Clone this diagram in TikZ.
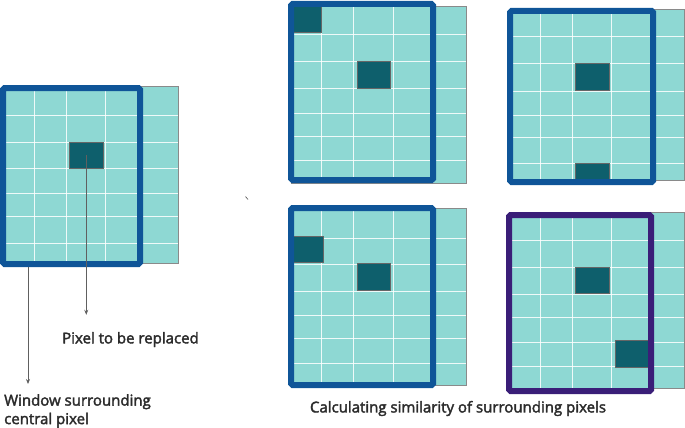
\documentclass[tikz,border=0pt]{standalone}
\usepackage{fontspec}
\setmainfont{Open Sans}
\usetikzlibrary{arrows.meta}
\definecolor{lightteal}{HTML}{8ED8D3}
\definecolor{darkteal}{HTML}{0E5F6C}
\definecolor{winblue}{HTML}{0F5598}
\definecolor{winpurple}{HTML}{3A1E78}
\definecolor{imgborder}{HTML}{8A8A8A}
\definecolor{txt}{HTML}{2B2B2B}
\definecolor{arrowgrey}{HTML}{606060}
\newcommand{\medwt}[1]{\special{pdf:literal direct 2 Tr 0.35 w}#1\special{pdf:literal direct 0 Tr}}
\tikzset{
  imgfill/.style={fill=lightteal, draw=imgborder, line width=0.8pt},
  gridline/.style={draw=white, line width=1pt, opacity=0.85},
  darkpix/.style={fill=darkteal, draw=black!60, line width=0.5pt},
  winframe/.style={draw=winblue, line width=6pt, rounded corners=1.5pt},
  winframeP/.style={draw=winpurple, line width=6pt, rounded corners=1.5pt},
  label/.style={font=\fontsize{15}{18.5}\selectfont, text=txt, inner sep=0pt},
  pointer/.style={draw=arrowgrey, line width=0.8pt, -{Stealth[length=5pt,width=4pt]}}
}
% \gridimg{left}{top}{right}{bottom}{cols}{rows}
\newcommand{\gridimg}[6]{%
  \fill[lightteal] (#1,#2) rectangle (#3,#4);
  \foreach \cx in {#5} {\draw[gridline] (\cx,#2) -- (\cx,#4);}
  \foreach \ry in {#6} {\draw[gridline] (#1,\ry) -- (#3,\ry);}
  \draw[imgborder, line width=0.8pt] (#1,#2) rectangle (#3,#4);
}
\begin{document}
\begin{tikzpicture}[x=1pt, y=-1pt]
\useasboundingbox (0,0) rectangle (685,428);

% ---------- left panel ----------
\gridimg{3}{86}{178}{263}{34,66,105,140}{115,142,168,193,216,243}
\node[darkpix, minimum width=34pt, minimum height=26pt, inner sep=0pt, anchor=north west] (px) at (69,142) {};
\draw[winframe] (3,88) rectangle (140,264);
\coordinate (winarrow) at (28,267);

% ---------- top-left comparison ----------
\gridimg{291}{6}{466}{183}{321,353,393,433}{35,62,88,113,136,160}
\fill[darkpix] (293,6) rectangle (321,32);
\fill[darkpix] (357,61) rectangle (390,88);
\draw[winframe] (291,4) rectangle (433,180);

% ---------- top-right comparison ----------
\gridimg{510}{9}{684}{180}{540,572,611,653}{37,64,91,115,137,163}
\fill[darkpix] (575,63) rectangle (609,90);
\fill[darkpix] (575,163) rectangle (609,180);
\draw[winframe] (510,11) rectangle (653,182);

% ---------- bottom-left comparison ----------
\gridimg{291}{208}{466}{385}{321,353,393,433}{238,264,291,315,338,363}
\fill[darkpix] (293,236) rectangle (323,262);
\fill[darkpix] (357,263) rectangle (390,290);
\draw[winframe] (291,208) rectangle (433,385);

% ---------- bottom-right comparison ----------
\gridimg{509}{212}{684}{388}{540,572,611,651}{240,267,294,317,342,366}
\fill[darkpix] (575,267) rectangle (609,293);
\fill[darkpix] (615,340) rectangle (648,367);
\draw[winframeP] (509,215) rectangle (651,391);

% stray mark
\draw[arrowgrey, line width=0.7pt] (245.5,196.5) -- (248,199.5);

% ---------- labels ----------
\node[label, anchor=west] (pxlabel) at (62,339.5) {\medwt{Pixel to be replaced}};
\node[label, anchor=north west, align=left] (winlabel) at (4,394) {\medwt{Window surrounding}\\\medwt{central pixel}};
\node[label] (caption) at (458,408.5) {\medwt{Calculating similarity of surrounding pixels}};

% ---------- pointers ----------
\draw[pointer, shorten >=17pt] (px.center) -- (px.center |- pxlabel.north);
\draw[pointer, shorten >=10pt] (winarrow) -- (winarrow |- winlabel.north);
\end{tikzpicture}
\end{document}
